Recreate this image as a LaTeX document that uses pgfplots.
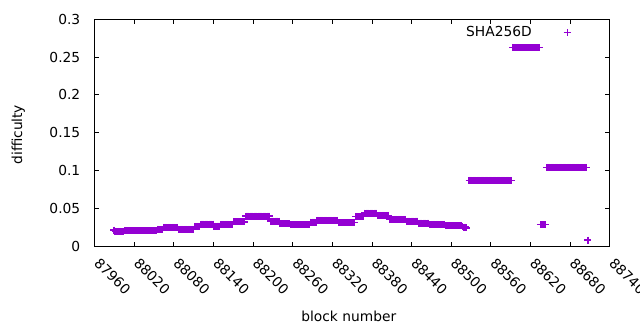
\documentclass[border=0pt]{standalone}
\usepackage{fontspec}
\setmainfont{DejaVu Sans}
\usepackage{pgfplots}
\pgfplotsset{compat=1.18}
\definecolor{gpviolet}{RGB}{148,0,211}
\pgfplotsset{mylegimg/.style={legend image code/.code={\path (0bp,0bp); \draw[##1, line width=1bp] plot coordinates {(34.6bp,0bp)};}}}
\begin{document}
\fontsize{13.8bp}{16bp}\selectfont
\begin{tikzpicture}
\useasboundingbox (0,0) rectangle (640bp,330bp);
\begin{axis}[
  at={(94.7bp,84bp)}, anchor=south west,
  scale only axis, width=515bp, height=226.7bp,
  xmin=87960, xmax=88740, ymin=0, ymax=0.3,
  xtick={87960,88020,88080,88140,88200,88260,88320,88380,88440,88500,88560,88620,88680,88740},
  xticklabels={87960,88020,88080,88140,88200,88260,88320,88380,88440,88500,88560,88620,88680,88740},
  ytick={0,0.05,0.1,0.15,0.2,0.25,0.3},
  yticklabels={0,0.05,0.1,0.15,0.2,0.25,0.3},
  scaled ticks=false,
  xticklabel style={xshift=6bp, rotate=-45, anchor=north west, inner sep=0pt},
  xticklabel shift=10.7bp,
  yticklabel style={anchor=east, inner sep=0pt},
  yticklabel shift=14.3bp,
  tick align=inside,
  major tick length=4.5bp,
  every tick/.style={black, line width=1bp},
  axis line style={line width=1bp},
  xlabel={block number},
  ylabel={difficulty},
  xlabel style={at={(axis description cs:0.4934,-0.309)}, anchor=center},
  ylabel style={at={(axis description cs:-0.1483,0.491)}, anchor=center},
  legend style={draw=none, fill=none, at={(axis description cs:0.9245,0.968)}, anchor=north east,
    legend cell align=right, inner sep=0pt, column sep=0pt, nodes={inner sep=0pt}},
  legend plot pos=right,
]
\addplot[only marks, mark=+, mark size=3.5bp, color=gpviolet, line width=1.5bp, mylegimg]
coordinates {
(87989,0.021)(87991,0.0193)(87993,0.0193)(87995,0.0193)(87997,0.0193)(87999,0.0193)(88001,0.0193)(88003,0.0193)
(88005,0.0205)(88007,0.0205)(88009,0.0205)(88011,0.0205)(88013,0.0205)(88015,0.0205)(88017,0.0205)(88019,0.0205)
(88021,0.0205)(88023,0.0205)(88025,0.0205)(88027,0.0205)(88029,0.0205)(88031,0.0205)(88033,0.0205)(88035,0.0205)
(88037,0.0205)(88039,0.0205)(88041,0.0205)(88043,0.0205)(88045,0.0205)(88047,0.0205)(88049,0.0205)(88051,0.0205)(88053,0.0205)
(88055,0.022)(88057,0.022)(88059,0.022)(88061,0.022)(88063,0.022)
(88065,0.0245)(88067,0.0245)(88069,0.0245)(88071,0.0245)(88073,0.0245)(88075,0.0245)(88077,0.0245)(88079,0.0245)(88081,0.0245)(88083,0.0245)(88085,0.0245)
(88087,0.022)(88089,0.022)(88091,0.022)(88093,0.022)(88095,0.022)(88097,0.022)(88099,0.022)(88101,0.022)(88103,0.022)(88105,0.022)(88107,0.022)(88109,0.022)
(88111,0.026)(88113,0.026)(88115,0.026)(88117,0.026)(88119,0.026)
(88121,0.029)(88123,0.029)(88125,0.029)(88127,0.029)(88129,0.029)(88131,0.029)(88133,0.029)(88135,0.029)(88137,0.029)(88139,0.029)
(88141,0.0264)(88143,0.0264)(88145,0.0264)(88147,0.0264)(88149,0.0264)
(88151,0.0285)(88153,0.0285)(88155,0.0285)(88157,0.0285)(88159,0.0285)(88161,0.0285)(88163,0.0285)(88165,0.0285)(88167,0.0285)(88169,0.0285)
(88171,0.032)(88173,0.032)(88175,0.032)(88177,0.032)(88179,0.032)(88181,0.032)(88183,0.032)(88185,0.032)(88187,0.032)
(88189,0.0395)(88191,0.0395)(88193,0.0395)(88195,0.0395)(88197,0.0395)(88199,0.0395)(88201,0.0395)(88203,0.0395)(88205,0.0395)(88207,0.0395)
(88209,0.0395)(88211,0.0395)(88213,0.0395)(88215,0.0395)(88217,0.0395)(88219,0.0395)(88221,0.0395)(88223,0.0395)(88225,0.0395)
(88227,0.033)(88229,0.033)(88231,0.033)(88233,0.033)(88235,0.033)(88237,0.033)(88239,0.033)
(88241,0.0295)(88243,0.0295)(88245,0.0295)(88247,0.0295)(88249,0.0295)(88251,0.0295)(88253,0.0295)(88255,0.0295)
(88257,0.028)(88259,0.028)(88261,0.028)(88263,0.028)(88265,0.028)(88267,0.028)(88269,0.028)(88271,0.028)
(88273,0.028)(88275,0.028)(88277,0.028)(88279,0.028)(88281,0.028)(88283,0.028)(88285,0.028)
(88287,0.0317)(88289,0.0317)(88291,0.0317)(88293,0.0317)(88295,0.0317)
(88297,0.034)(88299,0.034)(88301,0.034)(88303,0.034)(88305,0.034)(88307,0.034)(88309,0.034)(88311,0.034)
(88313,0.034)(88315,0.034)(88317,0.034)(88319,0.034)(88321,0.034)(88323,0.034)(88325,0.034)(88327,0.034)
(88329,0.031)(88331,0.031)(88333,0.031)(88335,0.031)(88337,0.031)(88339,0.031)(88341,0.031)(88343,0.031)(88345,0.031)(88347,0.031)(88349,0.031)(88351,0.031)(88353,0.031)
(88355,0.039)(88357,0.039)(88359,0.039)(88361,0.039)(88363,0.039)(88365,0.039)(88367,0.039)
(88369,0.0435)(88371,0.0435)(88373,0.0435)(88375,0.0435)(88377,0.0435)(88379,0.0435)(88381,0.0435)(88383,0.0435)(88385,0.0435)(88387,0.0435)
(88389,0.0405)(88391,0.0405)(88393,0.0405)(88395,0.0405)(88397,0.0405)(88399,0.0405)(88401,0.0405)(88403,0.0405)(88405,0.0405)
(88407,0.0353)(88409,0.0353)(88411,0.0353)(88413,0.0353)(88415,0.0353)(88417,0.0353)(88419,0.0353)(88421,0.0353)(88423,0.0353)(88425,0.0353)(88427,0.0353)(88429,0.0353)(88431,0.0353)
(88433,0.033)(88435,0.033)(88437,0.033)(88439,0.033)(88441,0.033)(88443,0.033)(88445,0.033)(88447,0.033)(88449,0.033)
(88451,0.0304)(88453,0.0304)(88455,0.0304)(88457,0.0304)(88459,0.0304)(88461,0.0304)(88463,0.0304)(88465,0.0304)
(88467,0.0287)(88469,0.0287)(88471,0.0287)(88473,0.0287)(88475,0.0287)(88477,0.0287)(88479,0.0287)(88481,0.0287)(88483,0.0287)(88485,0.0287)(88487,0.0287)(88489,0.0287)
(88491,0.027)(88493,0.027)(88495,0.027)(88497,0.027)(88499,0.027)(88501,0.027)(88503,0.027)(88505,0.027)(88507,0.027)(88509,0.027)(88511,0.027)(88513,0.027)(88515,0.027)
(88517,0.026)(88519,0.025)(88521,0.025)(88523,0.024)
(88527,0.087)(88529,0.087)(88531,0.087)(88533,0.087)(88535,0.087)(88537,0.087)(88539,0.087)(88541,0.087)(88543,0.087)(88545,0.087)(88547,0.087)
(88549,0.087)(88551,0.087)(88553,0.087)(88555,0.087)(88557,0.087)(88559,0.087)(88561,0.087)(88563,0.087)(88565,0.087)(88567,0.087)(88569,0.087)
(88571,0.087)(88573,0.087)(88575,0.087)(88577,0.087)(88579,0.087)(88581,0.087)(88583,0.087)(88585,0.087)(88587,0.087)(88589,0.087)(88591,0.087)
(88593,0.2625)(88595,0.2625)(88597,0.2625)(88599,0.2625)(88601,0.2625)(88603,0.2625)(88605,0.2625)(88607,0.2625)(88609,0.2625)(88611,0.2625)(88613,0.2625)
(88615,0.2625)(88617,0.2625)(88619,0.2625)(88621,0.2625)(88623,0.2625)(88625,0.2625)(88627,0.2625)(88629,0.2625)(88631,0.2625)(88633,0.2625)
(88635,0.0283)(88637,0.0283)(88639,0.0283)(88641,0.0283)(88643,0.0283)
(88645,0.104)(88647,0.104)(88649,0.104)(88651,0.104)(88653,0.104)(88655,0.104)(88657,0.104)(88659,0.104)(88661,0.104)(88663,0.104)
(88665,0.104)(88667,0.104)(88669,0.104)(88671,0.104)(88673,0.104)(88675,0.104)(88677,0.104)(88679,0.104)(88681,0.104)(88683,0.104)
(88685,0.104)(88687,0.104)(88689,0.104)(88691,0.104)(88693,0.104)(88695,0.104)(88697,0.104)(88699,0.104)(88701,0.104)(88703,0.104)(88705,0.104)
(88707,0.0077)
};
\addlegendentry{SHA256D}
\end{axis}
\end{tikzpicture}
\end{document}
